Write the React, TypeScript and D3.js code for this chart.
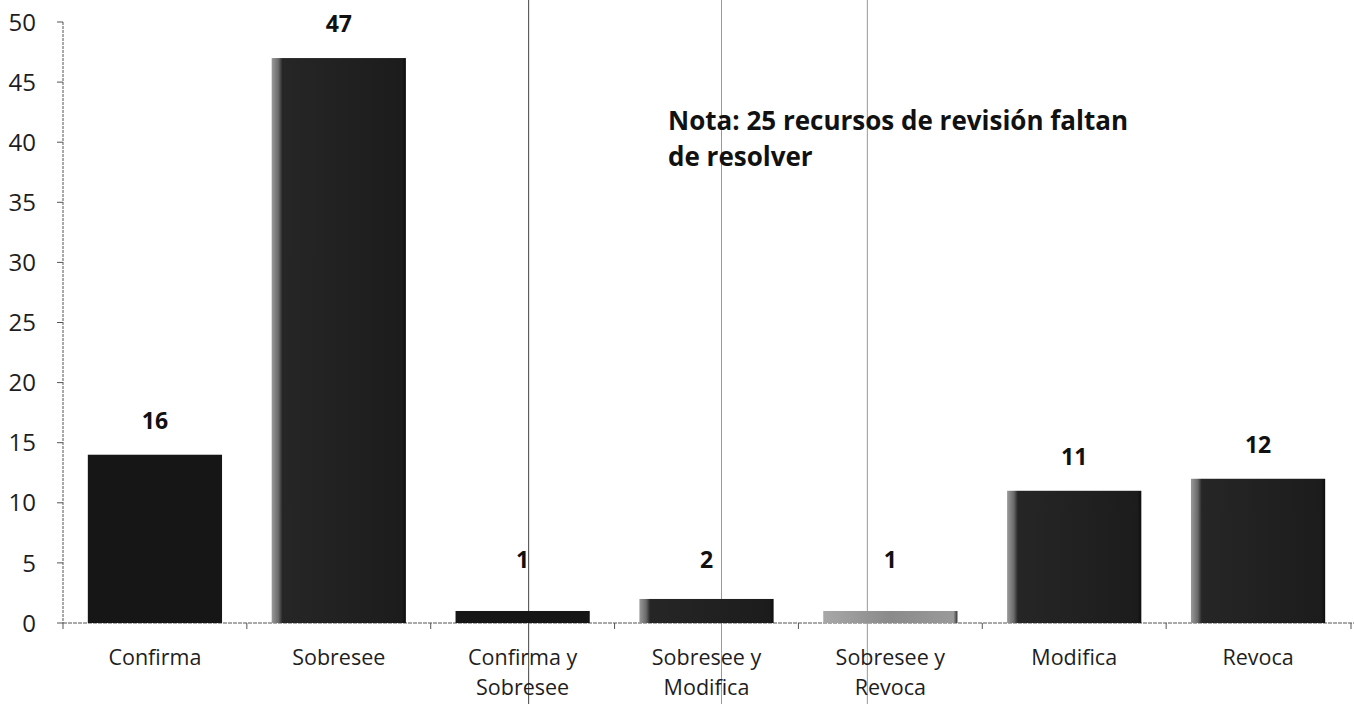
import React from 'react';
import * as d3 from 'd3';

// chart values
const categories: string[][] = [
  ['Confirma'],
  ['Sobresee'],
  ['Confirma y', 'Sobresee'],
  ['Sobresee y', 'Modifica'],
  ['Sobresee y', 'Revoca'],
  ['Modifica'],
  ['Revoca'],
];
// bar heights as drawn (the first bar is drawn lower than its label says)
const values = [14, 47, 1, 2, 1, 11, 12];
const valueLabels = ['16', '47', '1', '2', '1', '11', '12'];
const yTicks = [0, 5, 10, 15, 20, 25, 30, 35, 40, 45, 50];
const noteLines = ['Nota: 25 recursos de revisión faltan', 'de resolver'];

const W = 1354;
const H = 704;
const margin = { top: 22, right: 0, bottom: 81, left: 63 };
const font = '"Open Sans", "Noto Sans", sans-serif';

export default function App() {
  const x = d3
    .scaleBand<number>()
    .domain(d3.range(categories.length))
    .range([margin.left, W - 4])
    .paddingInner(0.27)
    .paddingOuter(0.135);
  const y = d3.scaleLinear().domain([0, 50]).range([H - margin.bottom, margin.top]);
  const bw = x.bandwidth();

  // bevel style per bar, like the 3D-ish Excel bars
  const fillFor = (i: number) => {
    if (i === 4) return 'url(#grey)';
    if (i === 0 || i === 2) return '#161616';
    return 'url(#bevel)';
  };

  return (
    <svg
      width={W}
      height={H}
      style={{ position: 'absolute', left: 0, top: 0, background: '#fff' }}
      fontFamily={font}
    >
      <defs>
        <linearGradient id="bevel" x1="0" x2="1" y1="0" y2="0">
          <stop offset="0" stopColor="#9a9a9a" />
          <stop offset="0.05" stopColor="#6a6a6a" />
          <stop offset="0.08" stopColor="#262626" />
          <stop offset="0.97" stopColor="#1c1c1c" />
          <stop offset="1" stopColor="#0e0e0e" />
        </linearGradient>
        <linearGradient id="grey" x1="0" x2="1" y1="0" y2="0">
          <stop offset="0" stopColor="#a8a8a8" />
          <stop offset="0.5" stopColor="#8a8a8a" />
          <stop offset="0.97" stopColor="#9a9a9a" />
          <stop offset="1" stopColor="#333" />
        </linearGradient>
      </defs>

      {/* scan artifacts: thin vertical rules */}
      {[2, 3, 4].map((i) => {
        const cx = (x(i) as number) + bw / 2;
        const off = i === 2 ? 6 : i === 3 ? 15 : -23;
        return (
          <line
            key={'scan' + i}
            x1={cx + off}
            x2={cx + off}
            y1={0}
            y2={H}
            stroke={i === 2 ? '#444' : '#999'}
            strokeWidth={1}
          />
        );
      })}

      {/* y axis */}
      <line x1={margin.left} x2={margin.left} y1={y(50)} y2={y(0)} stroke="#555" strokeDasharray="3 1" />
      {yTicks.map((t) => (
        <g key={t}>
          <line x1={margin.left - 6} x2={margin.left} y1={y(t)} y2={y(t)} stroke="#555" />
          <text
            x={36}
            y={y(t)}
            dy="0.36em"
            textAnchor="end"
            fontSize={24}
            fill="#1e1e1e"
          >
            {t}
          </text>
        </g>
      ))}

      {/* x axis */}
      <line x1={margin.left} x2={W} y1={y(0)} y2={y(0)} stroke="#555" strokeDasharray="4 1" />
      {d3.range(categories.length + 1).map((i) => {
        const xx = i < categories.length ? (x(i) as number) - (x.step() * x.paddingInner()) / 2 : W - 3;
        return <line key={'xt' + i} x1={xx} x2={xx} y1={y(0)} y2={y(0) + 6} stroke="#555" />;
      })}

      {/* bars */}
      {values.map((v, i) => (
        <rect
          key={'b' + i}
          x={x(i)}
          y={y(v)}
          width={bw}
          height={y(0) - y(v)}
          fill={fillFor(i)}
        />
      ))}

      {/* value labels */}
      {values.map((v, i) => (
        <text
          key={'v' + i}
          x={(x(i) as number) + bw / 2}
          y={Math.min(y(v) - 26, 568)}
          textAnchor="middle"
          fontSize={23}
          fontWeight="bold"
          fill="#111"
        >
          {valueLabels[i]}
        </text>
      ))}

      {/* category labels, one text per line */}
      {categories.map((lines, i) =>
        lines.map((l, j) => (
          <text
            key={'c' + i + '-' + j}
            x={(x(i) as number) + bw / 2}
            y={y(0) + 42 + j * 30}
            textAnchor="middle"
            fontSize={21.5}
            fill="#1e1e1e"
          >
            {l}
          </text>
        ))
      )}

      {/* note */}
      <text x={668} y={130} fontSize={26} fontWeight="bold" fill="#111">
        {noteLines.map((l, j) => (
          <tspan key={j} x={668} dy={j === 0 ? 0 : 36}>
            {l}
          </tspan>
        ))}
      </text>
    </svg>
  );
}
